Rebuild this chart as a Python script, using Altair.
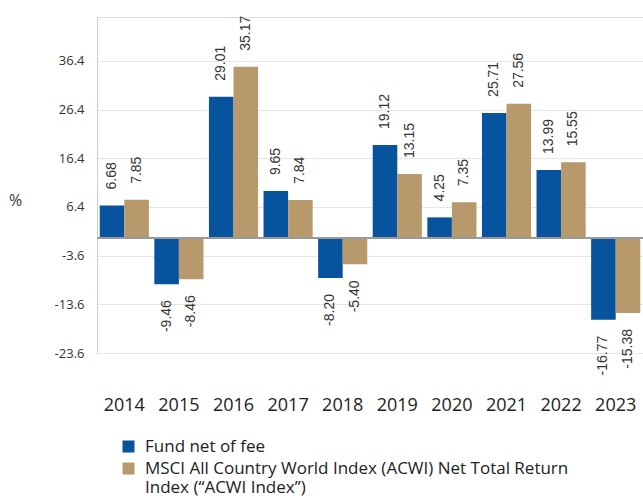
import altair as alt
import pandas as pd

years = ["2014", "2015", "2016", "2017", "2018", "2019", "2020", "2021", "2022", "2023"]
fund = [6.68, -9.46, 29.01, 9.65, -8.20, 19.12, 4.25, 25.71, 13.99, -16.77]
acwi = [7.85, -8.46, 35.17, 7.84, -5.40, 13.15, 7.35, 27.56, 15.55, -15.38]
series_names = [
    "Fund net of fee",
    "MSCI All Country World Index (ACWI) Net Total Return Index (\u201cACWI Index\u201d)",
]
legend_line1 = "MSCI All Country World Index (ACWI) Net Total Return"
legend_line2 = "Index (\u201cACWI Index\u201d)"
tick_values = [-23.6, -13.6, -3.6, 6.4, 16.4, 26.4, 36.4]

rows = []
for i, yr in enumerate(years):
    rows.append({"Year": yr, "Series": series_names[0], "Value": fund[i]})
    rows.append({"Year": yr, "Series": series_names[1], "Value": acwi[i]})
df = pd.DataFrame(rows)

BLUE = "#08539E"
TAN = "#B8996B"
FONT = "Open Sans"
LFONT = "Liberation Sans"

x = alt.X(
    "Year:N",
    sort=years,
    scale=alt.Scale(paddingInner=0.1, paddingOuter=0.05),
    axis=alt.Axis(
        title=None, labelAngle=0, ticks=False, domain=False, grid=False,
        labelPadding=43, labelFontSize=18, labelColor="#222", labelFont=FONT,
    ),
)
y = alt.Y(
    "Value:Q",
    scale=alt.Scale(domain=[-23.6, 45.4], nice=False, zero=False),
    axis=alt.Axis(
        values=tick_values, format=".1f",
        labelExpr="replace(datum.label, '\u2212', '-')",
        title="%", titleAngle=0,
        titleX=-82, titleY=183, titleAlign="center", titleBaseline="middle",
        titleFontSize=16, titleFontWeight="normal", titleColor="#333", titleFont=FONT,
        ticks=False, labelPadding=13, labelFontSize=13, labelColor="#333", labelFont=FONT,
        domainColor="#cccccc", gridColor="#e6e6e6",
    ),
)
xoff = alt.XOffset("Series:N", sort=series_names,
                   scale=alt.Scale(paddingInner=0, paddingOuter=0))
color = alt.Color(
    "Series:N",
    sort=series_names,
    scale=alt.Scale(domain=series_names, range=[BLUE, TAN]),
    legend=alt.Legend(
        title=None, orient="none", legendX=23, legendY=421,
        symbolType="square", symbolSize=144, symbolStrokeWidth=0,
        labelFontSize=17, labelFont=FONT, labelColor="#222", labelLimit=0,
        labelOffset=8, rowPadding=4,
        labelExpr=f"datum.label == '{series_names[0]}' ? datum.label : ['{legend_line1}', '{legend_line2}']",
    ),
)

base = alt.Chart(df).transform_calculate(
    lbl="replace(format(datum.Value, '.2f'), '\u2212', '-')"
)
bars = base.mark_bar().encode(x=x, y=y, xOffset=xoff, color=color)

zero = alt.Chart(pd.DataFrame({"v": [0]})).mark_rule(color="#999999", strokeWidth=2).encode(y=alt.Y("v:Q"))

pos_labels = base.transform_filter("datum.Value >= 0").mark_text(
    angle=270, align="left", baseline="middle", dx=16, fontSize=14, font=LFONT, color="#333"
).encode(x=x, y=y, xOffset=xoff, text="lbl:N")

neg_labels = base.transform_filter("datum.Value < 0").mark_text(
    angle=270, align="right", baseline="middle", dx=-16, fontSize=14, font=LFONT, color="#333"
).encode(x=x, y=y, xOffset=xoff, text="lbl:N")

chart = alt.layer(bars, zero, pos_labels, neg_labels).properties(
    width=546, height=336,
    autosize=alt.AutoSizeParams(type="none"),
    padding={"left": 97, "top": 17, "right": 0, "bottom": 150},
).configure_view(stroke=None).configure(font=FONT)

chart.save("out.html", embed_options={"renderer": "svg", "actions": False})
